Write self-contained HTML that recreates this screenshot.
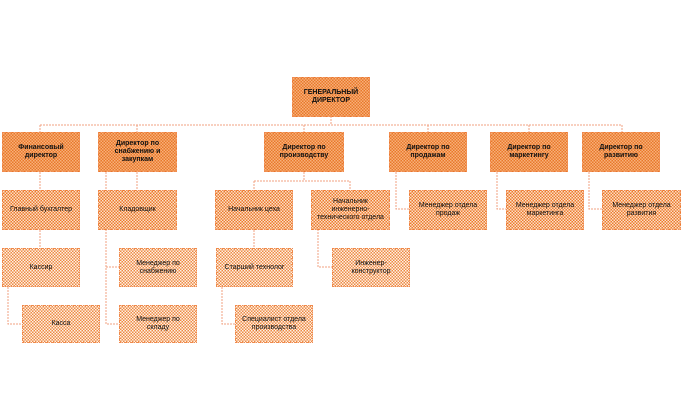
<!DOCTYPE html>
<html><head><meta charset="utf-8"><style>
html,body{margin:0;padding:0;background:#fff;}
body{width:683px;height:420px;position:relative;overflow:hidden;font-family:"Liberation Sans","DejaVu Sans",sans-serif;}
.b{position:absolute;box-sizing:border-box;display:flex;align-items:center;justify-content:center;text-align:center;font-size:7px;line-height:8px;color:#111;
background-color:#f6c49a;
background-image:repeating-conic-gradient(#ec7a2c 0 25%, #fbe0c8 0 50%);background-size:3px 3px;border:1px dotted #f08a50;}
.d{background-image:repeating-conic-gradient(#e8782a 0 25%, #f7b07a 0 50%);background-size:3px 3px;}
.l{background-image:repeating-conic-gradient(#ee8a44 0 25%, #fdf1e6 0 50%);background-size:3px 3px;}
.t{font-weight:bold;}
svg{position:absolute;left:0;top:0;}
</style></head><body>
<svg width="683" height="420">
<g stroke="#f0a080" stroke-width="1" fill="none" stroke-dasharray="2,1">
<path d="M331 116V125M40 125H622M40 125V132M137 125V132M304 125V132M428 125V132M529 125V132M622 125V132"/>
<path d="M40 172V190M40 230V248M8 287V324H22"/>
<path d="M137 172V190M106 172V324H119M106 267H119"/>
<path d="M304 172V181M254 181H350M254 181V190M350 181V190"/>
<path d="M254 230V248M222 287V324H235M318 229V267H332"/>
<path d="M396 172V209H409M497 172V209H506M589 172V209H602"/>
</g>
</svg>
<div class="b d t" style="left:292px;top:77px;width:78px;height:40px">ГЕНЕРАЛЬНЫЙ<br>ДИРЕКТОР</div>

<div class="b d t" style="left:2px;top:132px;width:78px;height:40px">Финансовый<br>директор</div>
<div class="b d t" style="left:98px;top:132px;width:79px;height:40px">Директор по<br>снабжению и<br>закупкам</div>
<div class="b d t" style="left:264px;top:132px;width:80px;height:40px">Директор по<br>производству</div>
<div class="b d t" style="left:389px;top:132px;width:78px;height:40px">Директор по<br>продажам</div>
<div class="b d t" style="left:490px;top:132px;width:78px;height:40px">Директор по<br>маркетингу</div>
<div class="b d t" style="left:582px;top:132px;width:78px;height:40px">Директор по<br>развитию</div>

<div class="b" style="left:2px;top:190px;width:78px;height:40px">Главный бухгалтер</div>
<div class="b" style="left:98px;top:190px;width:79px;height:40px">Кладовщик</div>
<div class="b" style="left:215px;top:190px;width:78px;height:40px">Начальник цеха</div>
<div class="b" style="left:311px;top:190px;width:79px;height:40px">Начальник<br>инженерно-<br>технического отдела</div>
<div class="b" style="left:409px;top:190px;width:78px;height:40px">Менеджер отдела<br>продаж</div>
<div class="b" style="left:506px;top:190px;width:78px;height:40px">Менеджер отдела<br>маркетинга</div>
<div class="b" style="left:602px;top:190px;width:79px;height:40px">Менеджер отдела<br>развития</div>

<div class="b l" style="left:2px;top:248px;width:78px;height:39px">Кассир</div>
<div class="b l" style="left:119px;top:248px;width:78px;height:39px">Менеджер по<br>снабжению</div>
<div class="b l" style="left:216px;top:248px;width:77px;height:39px">Старший технолог</div>
<div class="b l" style="left:332px;top:248px;width:78px;height:39px">Инженер-<br>конструктор</div>

<div class="b l" style="left:22px;top:305px;width:78px;height:38px">Касса</div>
<div class="b l" style="left:119px;top:305px;width:78px;height:38px">Менеджер по<br>складу</div>
<div class="b l" style="left:235px;top:305px;width:78px;height:38px">Специалист отдела<br>производства</div>
</body></html>
